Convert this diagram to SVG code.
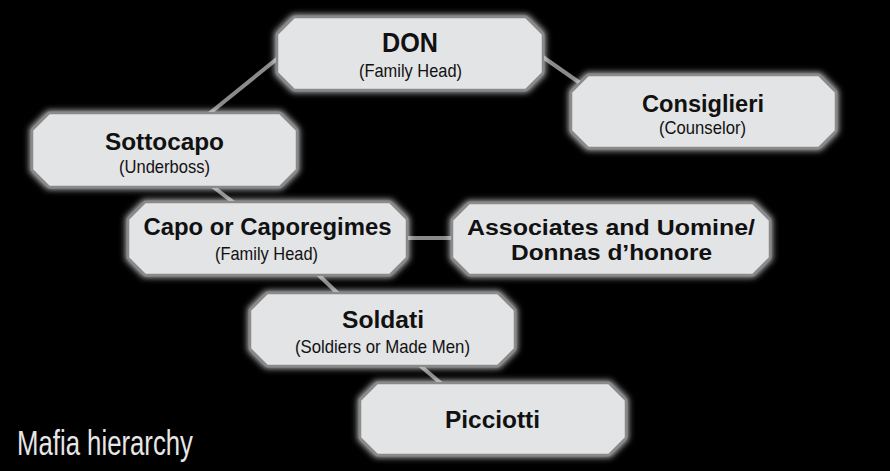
<svg xmlns="http://www.w3.org/2000/svg" width="890" height="471" viewBox="0 0 890 471">
<defs>
<filter id="glow" x="-10%" y="-25%" width="120%" height="150%">
<feMorphology in="SourceAlpha" operator="dilate" radius="1" result="d"/>
<feGaussianBlur in="d" stdDeviation="3" result="b"/>
<feFlood flood-color="#ffffff" flood-opacity="0.75"/>
<feComposite in2="b" operator="in" result="g"/>
<feMerge><feMergeNode in="g"/><feMergeNode in="SourceGraphic"/></feMerge>
</filter>
</defs>
<style>
.box{fill:#e3e4e6;stroke:#8a8a8a;stroke-width:2.5;filter:url(#glow)}
.t{font-family:"Liberation Sans",Arial,sans-serif;font-weight:bold;font-size:23px;fill:#111;text-anchor:middle}
.s{font-family:"Liberation Sans",Arial,sans-serif;font-size:19px;fill:#111;text-anchor:middle}
.c line{stroke:#8a8a8a;stroke-width:4}
</style>
<rect width="890" height="471" fill="#000"/>
<g class="c" id="connectors">
<line x1="205" y1="117" x2="283" y2="54"/>
<line x1="530" y1="48" x2="590" y2="90"/>
<line x1="200" y1="177" x2="245" y2="211"/>
<line x1="400" y1="238" x2="460" y2="238"/>
<line x1="305" y1="262" x2="350" y2="305"/>
<line x1="405" y1="353" x2="455" y2="395"/>
</g>
<g id="don">
<polygon class="box" points="294,17 526,17 543,34 543,73 526,90 294,90 277,73 277,34"/>
<text class="t" x="410" y="52" style="font-size:28px" textLength="56" lengthAdjust="spacingAndGlyphs">DON</text>
<text class="s" x="410.5" y="77" textLength="103" lengthAdjust="spacingAndGlyphs">(Family Head)</text>
</g>
<g id="consiglieri">
<polygon class="box" points="588,75 819,75 836,92 836,131 819,148 588,148 571,131 571,92"/>
<text class="t" x="703" y="112" textLength="122" lengthAdjust="spacingAndGlyphs">Consiglieri</text>
<text class="s" x="702.5" y="134" textLength="87" lengthAdjust="spacingAndGlyphs">(Counselor)</text>
</g>
<g id="sottocapo">
<polygon class="box" points="49,113 280,113 297,130 297,170 280,187 49,187 32,170 32,130"/>
<text class="t" x="164.5" y="150" textLength="119" lengthAdjust="spacingAndGlyphs">Sottocapo</text>
<text class="s" x="164.5" y="173" textLength="91" lengthAdjust="spacingAndGlyphs">(Underboss)</text>
</g>
<g id="capo">
<polygon class="box" points="145,202 390,202 407,219 407,258 390,275 145,275 128,258 128,219"/>
<text class="t" x="267.5" y="235" textLength="248" lengthAdjust="spacingAndGlyphs">Capo or Caporegimes</text>
<text class="s" x="266.5" y="260" textLength="103" lengthAdjust="spacingAndGlyphs">(Family Head)</text>
</g>
<g id="associates">
<polygon class="box" points="469,203 753,203 770,220 770,258 753,275 469,275 452,258 452,220"/>
<text class="t" x="611" y="235" style="font-size:22px" textLength="288" lengthAdjust="spacingAndGlyphs">Associates and Uomine/</text>
<text class="t" x="611.5" y="260" style="font-size:22px" textLength="201" lengthAdjust="spacingAndGlyphs">Donnas d’honore</text>
</g>
<g id="soldati">
<polygon class="box" points="267,293 498,293 515,310 515,349 498,366 267,366 250,349 250,310"/>
<text class="t" x="383" y="328" textLength="82" lengthAdjust="spacingAndGlyphs">Soldati</text>
<text class="s" x="382.5" y="353" textLength="175" lengthAdjust="spacingAndGlyphs">(Soldiers or Made Men)</text>
</g>
<g id="picciotti">
<polygon class="box" points="377,383 609,383 626,400 626,438 609,455 377,455 360,438 360,400"/>
<text class="t" x="492.5" y="428" textLength="95" lengthAdjust="spacingAndGlyphs">Picciotti</text>
</g>
<text x="17" y="455" font-family="Liberation Sans, Arial, sans-serif" font-size="35" fill="#e6e6e6" textLength="176" lengthAdjust="spacingAndGlyphs">Mafia hierarchy</text>
</svg>
